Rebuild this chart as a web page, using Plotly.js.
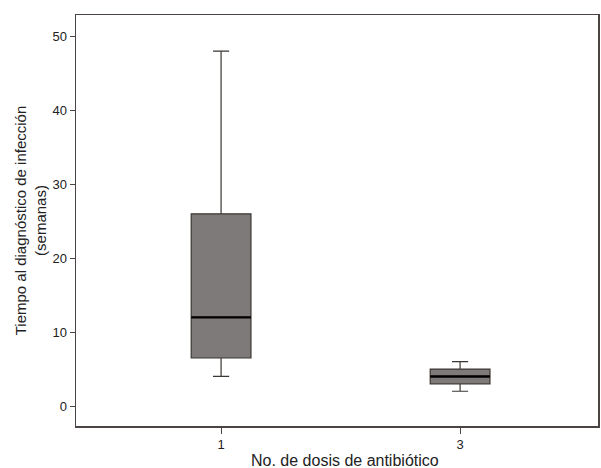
<!DOCTYPE html>
<html><head><meta charset="utf-8">
<script src="https://cdn.plot.ly/plotly-3.0.1.min.js"></script>
<style>html,body{margin:0;padding:0;background:#fff}#chart{width:601px;height:468px}</style>
</head><body><div id="chart"></div>
<script>
const categories = ["1", "3"];
const lowerWhisker = [4, 2];
const q1 = [6.5, 3];
const median = [12, 4];
const q3 = [26, 5];
const upperWhisker = [48, 6];
const yTicks = [0, 10, 20, 30, 40, 50];

const xs = categories.map((c, i) => i);
const boxTrace = {
  type: "box",
  x: xs,
  q1: q1, median: median, q3: q3,
  lowerfence: lowerWhisker, upperfence: upperWhisker,
  width: 0.25,
  whiskerwidth: 0.27,
  fillcolor: "#7f7a7a",
  line: {color: "#3b3733", width: 1.2},
  boxpoints: false,
  hoverinfo: "skip",
  showlegend: false
};
// thick median lines drawn from the median array
const mx = [], my = [];
xs.forEach((x, i) => { mx.push(x - 0.125, x + 0.125, null); my.push(median[i], median[i], null); });
const medTrace = {
  type: "scatter", mode: "lines", x: mx, y: my,
  line: {color: "#000", width: 2.4}, hoverinfo: "skip", showlegend: false
};

const layout = {
  width: 601, height: 468,
  margin: {l: 76, r: 3, t: 15, b: 42},
  paper_bgcolor: "#fff", plot_bgcolor: "#fff",
  font: {family: "Liberation Sans, Arial, sans-serif", size: 13, color: "#222"},
  xaxis: {
    range: [-0.607, 1.577], tickvals: xs, ticktext: categories,
    showgrid: false, zeroline: false,
    showline: true, mirror: true, linecolor: "#4a4543", linewidth: 1.5,
    ticks: "outside", ticklen: 6, tickcolor: "#4a4543",
    tickfont: {size: 13}
  },
  yaxis: {
    range: [-2.7, 52.9], tickvals: yTicks,
    showgrid: false, zeroline: false,
    showline: true, mirror: true, linecolor: "#4a4543", linewidth: 1.5,
    ticks: "outside", ticklen: 5, tickcolor: "#4a4543",
    tickfont: {size: 13},
    title: {text: "Tiempo al diagnóstico de infección<br>(semanas)", font: {size: 15}, standoff: 2}
  },
  annotations: [{
    text: "No. de dosis de antibiótico", xref: "paper", yref: "paper",
    x: 0.515, y: -0.085, xanchor: "center", yanchor: "middle",
    showarrow: false, font: {size: 16}
  }]
};
Plotly.newPlot("chart", [boxTrace, medTrace], layout, {displayModeBar: false, staticPlot: true});
</script></body></html>
